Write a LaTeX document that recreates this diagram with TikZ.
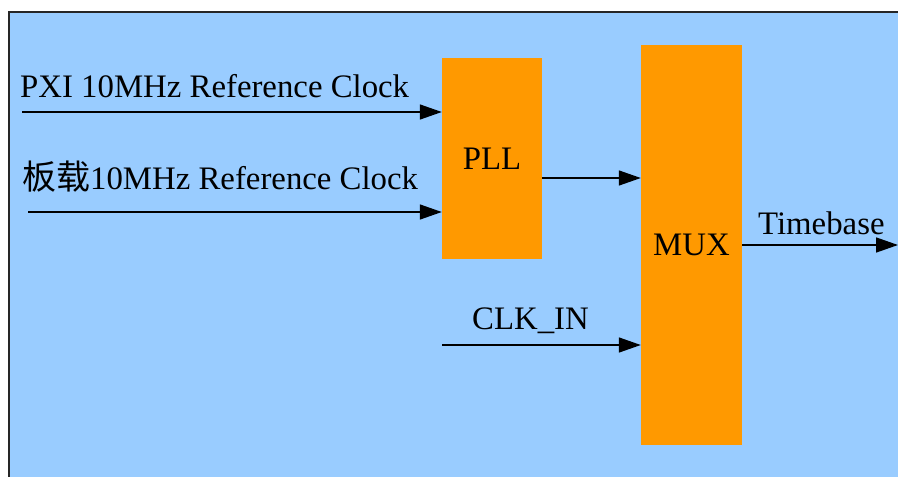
\documentclass[tikz,border=0pt]{standalone}
\usepackage{fontspec}
\setmainfont{Liberation Serif}
\newfontfamily\cjk{Noto Sans CJK SC}
\usetikzlibrary{arrows.meta}
\definecolor{bgblue}{HTML}{99CCFF}
\definecolor{boxorange}{HTML}{FF9900}
\begin{document}
\begin{tikzpicture}[x=1pt,y=-1pt,
  blockbox/.style={fill=boxorange,draw=none,inner sep=0pt,font=\fontsize{32.8}{39}\selectfont},
  lbl/.style={inner sep=0pt,anchor=base west,font=\fontsize{32.8}{39}\selectfont},
  sig/.style={line width=1.5pt,-{Triangle[length=22pt,width=15pt]}}]
\useasboundingbox (0,0) rectangle (898,477);
\begin{scope}
\clip (0,0) rectangle (898,477);
\draw[fill=bgblue,draw=black!85,line width=2pt] (9,12) rectangle (920,500);
\end{scope}
\node[blockbox,minimum width=100pt,minimum height=201pt] (pll) at (492,158.5) {PLL};
\node[blockbox,minimum width=101pt,minimum height=400pt] (mux) at (691.5,245) {MUX};
\coordinate (in1) at (22,112);
\coordinate (in2) at (28,212);
\coordinate (in3) at (442,345);
\coordinate (out) at (898,245);
\node[lbl] (t1) at (20,97) {PXI 10MHz Reference Clock};
\node[lbl] (t2) at (22,189) {{\cjk\fontsize{34}{40}\selectfont 板载}10MHz Reference Clock};
\node[lbl] (t3) at (472,329) {CLK\_IN};
\node[lbl] (t4) at (758,234) {Timebase};
\draw[sig] (in1) -- (in1 -| pll.west);
\draw[sig] (in2) -- (in2 -| pll.west);
\draw[sig] (pll.east |- 0,178) -- (mux.west |- 0,178);
\draw[sig] (in3) -- (in3 -| mux.west);
\draw[sig] (mux.east |- out) -- (out);
\end{tikzpicture}
\end{document}
